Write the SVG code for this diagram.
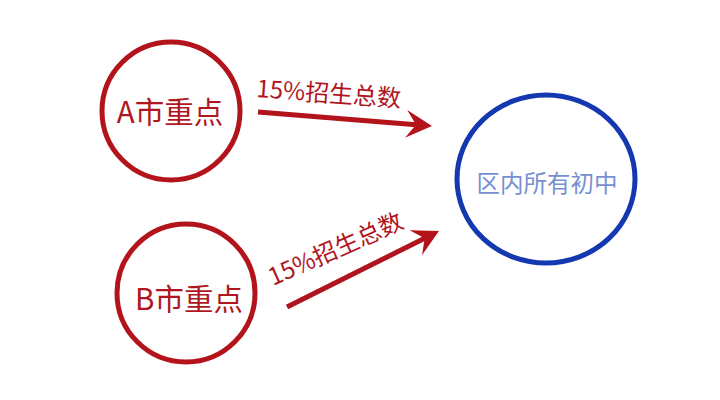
<svg xmlns="http://www.w3.org/2000/svg" width="720" height="400" viewBox="0 0 720 400">
<style>
.red-node{fill:none;stroke:#b3141c;stroke-width:5}
.blue-node{fill:none;stroke:#1438b0;stroke-width:5}
.red-txt{fill:#b0161e;font-family:"Noto Sans CJK SC","Noto Sans",sans-serif;font-size:29.5px;text-anchor:middle}
.blue-txt{fill:#7690d2;font-family:"Noto Sans CJK SC","Noto Sans",sans-serif;font-size:23.5px;text-anchor:middle}
.lbl{fill:#b0161e;font-family:"Noto Sans CJK SC","Noto Sans",sans-serif;font-size:24px}
.conn{stroke:#b3141c;stroke-width:5;fill:none}
</style>
<defs>
<marker id="head" viewBox="0 0 26 28" refX="10" refY="14" markerWidth="26" markerHeight="28" markerUnits="userSpaceOnUse" orient="auto">
<path d="M0,0 L26,14 L0,28 L10,14 Z" fill="#b3141c"/>
</marker>
</defs>
<rect width="720" height="400" fill="#ffffff"/>
<g id="nodeA">
<circle class="red-node" cx="171" cy="111" r="69"/>
<text class="red-txt" x="170" y="123">A市重点</text>
</g>
<g id="nodeB">
<circle class="red-node" cx="186" cy="293" r="69"/>
<text class="red-txt" x="189" y="310">B市重点</text>
</g>
<g id="nodeC">
<ellipse class="blue-node" cx="546" cy="179" rx="89" ry="84"/>
<text class="blue-txt" x="547" y="192">区内所有初中</text>
</g>
<g id="connectors">
<line class="conn" x1="258" y1="112" x2="416" y2="124.7" marker-end="url(#head)"/>
<text class="lbl" x="256" y="97" transform="rotate(4 256 97)">15%招生总数</text>
<line class="conn" x1="287" y1="307" x2="424.7" y2="238.2" marker-end="url(#head)"/>
<text class="lbl" x="273" y="286" transform="rotate(-24 273 286)">15%招生总数</text>
</g>
</svg>
